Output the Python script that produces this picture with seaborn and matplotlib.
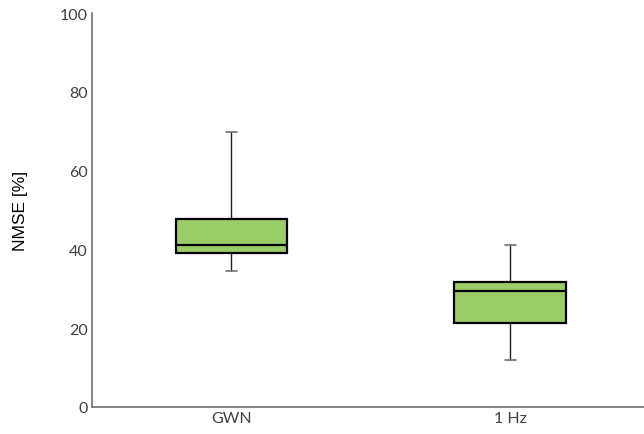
import matplotlib
matplotlib.use("Agg")
import matplotlib.pyplot as plt
import seaborn as sns
import pandas as pd

categories = ["GWN", "1 Hz"]
# five-number summaries: min, Q1, median, Q3, max
gwn_values = [34.6, 39.1, 41.2, 47.7, 69.9]
hz1_values = [11.9, 21.2, 29.5, 31.6, 41.2]

df = pd.DataFrame({
    "cond": [categories[0]] * len(gwn_values) + [categories[1]] * len(hz1_values),
    "nmse": gwn_values + hz1_values,
})

sns.set_theme(style="white")
fig = plt.figure(figsize=(6.44, 4.35), dpi=100, facecolor="white")
ax = fig.add_axes([92 / 644, 1 - 408 / 435, 1 - 92 / 644, (408 - 14) / 435])
ax.set_facecolor("white")

sns.boxplot(
    data=df, x="cond", y="nmse", order=categories, ax=ax,
    color="#9ACD68", saturation=1, width=0.4, whis=(0, 100),
    boxprops=dict(edgecolor="black", linewidth=1.6),
    medianprops=dict(color="black", linewidth=1.6),
    whiskerprops=dict(color="#202020", linewidth=1.0),
    capprops=dict(color="#707070", linewidth=1.2),
    capwidths=0.04, showfliers=False,
)

ax.set_ylim(0, 100)
ax.set_xlim(-0.5, 1.48)
ax.set_yticks([0, 20, 40, 60, 80, 100])
ax.set_xlabel("")
ax.set_ylabel("NMSE [%]", fontsize=12.5, family="Liberation Sans", color="black", labelpad=23)
for lab in ax.get_xticklabels() + ax.get_yticklabels():
    lab.set_family("Lato")
    lab.set_fontsize(11.5)
    lab.set_color("#404040")
ax.tick_params(axis="both", length=0, pad=3)
for side in ["top", "right"]:
    ax.spines[side].set_visible(False)
for side in ["left", "bottom"]:
    ax.spines[side].set_color("#707070")
    ax.spines[side].set_linewidth(1.2)

fig.savefig("out.png", dpi=100, facecolor="white")
